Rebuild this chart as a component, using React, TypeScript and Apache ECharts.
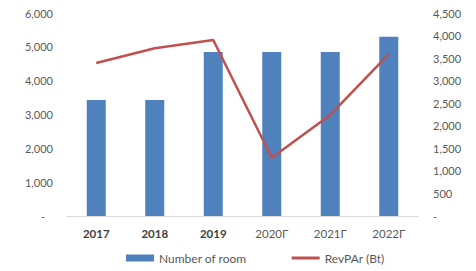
import React, { useEffect, useRef } from "react";
import * as echarts from "echarts";

const categories = ["2017", "2018", "2019", "2020Г", "2021Г", "2022Г"];
const rooms = [3430, 3430, 4850, 4850, 4850, 5300];
const revpar = [3390, 3720, 3900, 1290, 2240, 3590];

const fmt = (v: number) => (v === 0 ? "{z|-}" : v.toLocaleString("en-US"));

export default function App() {
  const ref = useRef<HTMLDivElement>(null);
  useEffect(() => {
    const chart = echarts.init(ref.current!, null, { renderer: "svg" });
    chart.setOption({
      animation: false,
      textStyle: { fontFamily: "Lato" },
      grid: { left: 67, right: 58, top: 13, bottom: 55 },
      legend: {
        left: 126,
        top: 252,
        padding: 0,
        itemWidth: 28,
        itemHeight: 7,
        itemGap: 45,
        textStyle: { color: "#595959", fontSize: 12, fontFamily: "Lato" },
        data: [
          { name: "Number of room", icon: "rect" },
          { name: "RevPAr (Bt)", icon: "path://M0,0 L28,0 L28,3 L0,3 Z" },
        ],
      },
      xAxis: {
        type: "category",
        data: categories,
        axisLine: { lineStyle: { color: "#d9d9d9", width: 1 } },
        axisTick: { show: false },
        axisLabel: {
          margin: 11,
          fontSize: 11,
          formatter: (v: string) =>
            v.endsWith("Г") ? "{l|" + v + "}" : "{b|" + v + "}",
          rich: {
            b: { fontSize: 11.5, fontWeight: "bold", color: "#404040", fontFamily: "Lato" },
            l: { fontSize: 11.5, color: "#595959", fontFamily: "Lato" },
          },
        },
      },
      yAxis: [
        {
          type: "value",
          min: 0,
          max: 6000,
          interval: 1000,
          splitLine: { show: false },
          axisLine: { show: false },
          axisTick: { show: false },
          axisLabel: {
            margin: 14,
            fontSize: 11,
            color: "#595959",
            formatter: fmt,
            rich: { z: { fontSize: 11, color: "#595959", padding: [0, 8, 0, 0] } },
          },
        },
        {
          type: "value",
          min: 0,
          max: 4500,
          interval: 500,
          splitLine: { show: false },
          axisLine: { show: false },
          axisTick: { show: false },
          axisLabel: {
            margin: 15,
            fontSize: 11,
            color: "#595959",
            formatter: fmt,
            rich: { z: { fontSize: 11, color: "#595959" } },
          },
        },
      ],
      series: [
        {
          name: "Number of room",
          type: "bar",
          data: rooms,
          barWidth: 19,
          itemStyle: { color: "#4F81BD" },
        },
        {
          name: "RevPAr (Bt)",
          type: "line",
          yAxisIndex: 1,
          data: revpar,
          symbol: "none",
          lineStyle: { color: "#C0504D", width: 2.5 },
          itemStyle: { color: "#C0504D" },
        },
      ],
    });
    return () => chart.dispose();
  }, []);
  return <div ref={ref} style={{ width: 476, height: 271, position: "absolute", left: 0, top: 0 }} />;
}
